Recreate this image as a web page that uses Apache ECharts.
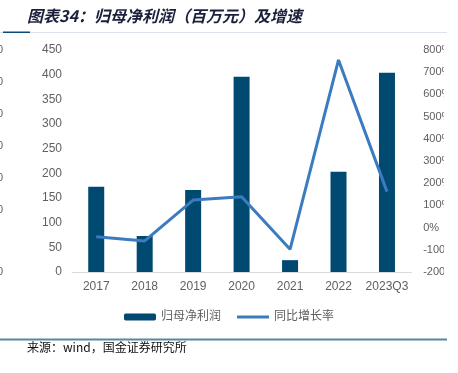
<!DOCTYPE html>
<html><head><meta charset="utf-8">
<script src="https://cdn.jsdelivr.net/npm/echarts@6/dist/echarts.min.js"></script>
<style>html,body{margin:0;padding:0;background:#fff}#c{width:458px;height:373px}</style>
</head><body><div id="c"></div>
<script>
var categories = ['2017','2018','2019','2020','2021','2022','2023Q3'];
var profit = [173, 73, 166, 396, 24, 203, 404];
var growth = [-41, -60, 124, 139, -98, 755, 162];
var leftTicks = {min:0, max:450, interval:50};
var rightTicks = {min:-200, max:800, interval:100};

var chart = echarts.init(document.getElementById('c'), null, {renderer:'canvas'});
var gray = '#606060';
var ghostY = [50, 82, 114, 146, 178, 210, 272];
var graphics = [
  {type:'text', left:27, top:8, style:{text:'图表34：归母净利润（百万元）及增速', font:'italic bold 16px "Noto Sans CJK SC"', fill:'#1a1f3a'}},
  {type:'rect', shape:{x:0,y:32,width:447,height:1}, style:{fill:'#dde3ea'}},
  {type:'rect', shape:{x:3,y:31.5,width:27,height:1.5}, style:{fill:'#0b4a7a'}},
  {type:'rect', shape:{x:0,y:338.5,width:447,height:2}, style:{fill:'#5a86a3'}},
  {type:'text', left:27, top:341, style:{text:'来源：wind，国金证券研究所', font:'12px "Noto Sans CJK SC"', fill:'#111'}},
  {type:'rect', z:100, shape:{x:444,y:40,width:14,height:260}, style:{fill:'#fff'}}
];
ghostY.forEach(function(y){
  graphics.push({type:'text', x:3, y:y, style:{text:'0', font:'11px Arial', fill:gray, align:'right', verticalAlign:'middle'}});
});

chart.setOption({
  animation:false,
  graphic: graphics,
  legend:{
    bottom:45, left:'center', itemGap:16, itemWidth:32, itemHeight:7,
    textStyle:{color:gray, fontSize:12, fontFamily:'Arial, "Noto Sans CJK SC"'},
    data:[{name:'归母净利润', icon:'roundRect'},
          {name:'同比增长率', icon:'path://M0,0 L32,0 L32,3 L0,3 Z'}]
  },
  grid:{left:72, right:39, top:50, bottom:101},
  xAxis:{
    type:'category', data:categories, boundaryGap:true,
    axisLine:{lineStyle:{color:'#d9d9d9'}},
    axisTick:{inside:true, length:4, lineStyle:{color:'#d9d9d9'}},
    axisLabel:{color:gray, fontSize:12, margin:9, interval:0, fontFamily:'Arial'}
  },
  yAxis:[
    {type:'value', min:leftTicks.min, max:leftTicks.max, interval:leftTicks.interval,
     axisLine:{show:false}, axisTick:{show:false}, splitLine:{show:false},
     axisLabel:{color:gray, fontSize:12, margin:10, fontFamily:'Arial'}},
    {type:'value', min:rightTicks.min, max:rightTicks.max, interval:rightTicks.interval,
     axisLine:{show:false}, axisTick:{show:false}, splitLine:{show:false},
     axisLabel:{color:gray, fontSize:11, margin:12, fontFamily:'Arial', formatter:function(v){return v+'%';}}}
  ],
  series:[
    {name:'归母净利润', type:'bar', data:profit, barWidth:16, itemStyle:{color:'#004a72'}},
    {name:'同比增长率', type:'line', yAxisIndex:1, data:growth, symbol:'none',
     lineStyle:{color:'#3b7bbf', width:3}, itemStyle:{color:'#3b7bbf'}}
  ]
});
</script></body></html>
